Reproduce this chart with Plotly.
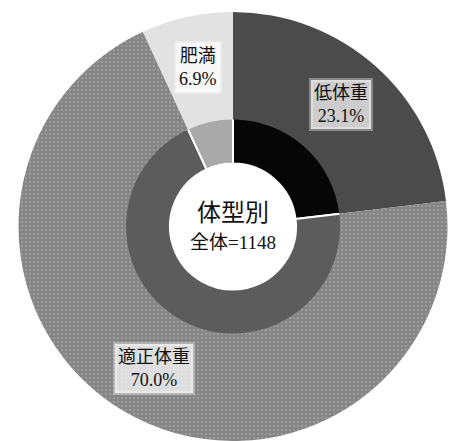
import math
import plotly.graph_objects as go

# 体型別の構成比（全体 n=1148）
categories = ["低体重", "適正体重", "肥満"]
shares = [23.1, 70.0, 6.9]
total_n = 1148

outer_colors = ["#4b4b4b", "#888888", "#e2e2e2"]
inner_colors = ["#060606", "#5c5c5c", "#a9a9a9"]

W, H = 455, 441
cx, cy = 233, 226.5          # ring centre in pixels
r_out, r_mid, r_hole = 214.5, 107, 63
FONT = "Liberation Serif, Noto Sans CJK JP"


def dom(r):
    return dict(
        x=[(cx - r) / W, (cx + r) / W],
        y=[(H - cy - r) / H, (H - cy + r) / H],
    )


fig = go.Figure()

# inner ring first, slightly oversized so the outer ring hides its rim outline
fig.add_trace(go.Pie(
    labels=categories,
    values=shares,
    sort=False,
    direction="clockwise",
    rotation=0,
    hole=r_hole / (r_mid + 3),
    domain=dom(r_mid + 3),
    marker=dict(colors=inner_colors, line=dict(color="white", width=2)),
    textinfo="none",
    showlegend=False,
))

fig.add_trace(go.Pie(
    labels=categories,
    values=shares,
    sort=False,
    direction="clockwise",
    rotation=0,
    hole=r_mid / r_out,
    domain=dom(r_out),
    marker=dict(
        colors=outer_colors,
        line=dict(width=0),
        pattern=dict(shape=["", ".", ""], fgcolor="#9a9a9a",
                     bgcolor="#858585", size=4, solidity=0.3),
    ),
    textinfo="none",
    showlegend=False,
))

# slice labels at the middle of each outer-ring segment, on a soft white halo
total = sum(shares)
r_lab = (r_mid + r_out) / 2 + 2
cum = 0.0
for name, v in zip(categories, shares):
    theta = math.radians((cum + v / 2) / total * 360)
    cum += v
    px = cx + r_lab * math.sin(theta)
    py = cy - r_lab * math.cos(theta)
    fig.add_annotation(
        x=px / W, y=(H - py) / H, xref="paper", yref="paper",
        xanchor="center", yanchor="middle",
        text=f"{name}<br>{v:.1f}%", showarrow=False,
        font=dict(family=FONT, size=18, color="#111"),
        bgcolor="rgba(255,255,255,0.72)", borderpad=1,
        bordercolor="rgba(255,255,255,0.35)", borderwidth=4,
    )

fig.add_annotation(
    x=cx / W, y=(H - cy + 14) / H, xref="paper", yref="paper",
    xanchor="center", yanchor="middle",
    text="体型別", showarrow=False,
    font=dict(family=FONT, size=24, color="#111"),
)
fig.add_annotation(
    x=cx / W, y=(H - cy - 16) / H, xref="paper", yref="paper",
    xanchor="center", yanchor="middle",
    text=f"全体={total_n}", showarrow=False,
    font=dict(family=FONT, size=19, color="#111"),
)

fig.update_layout(
    width=W, height=H,
    margin=dict(l=0, r=0, t=0, b=0),
    paper_bgcolor="white",
    plot_bgcolor="white",
)

fig.write_html("out.html")
